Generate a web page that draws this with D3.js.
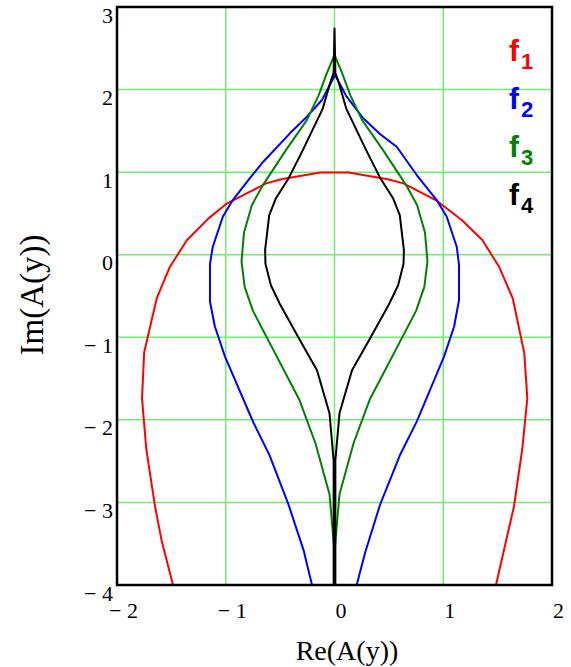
<!DOCTYPE html>
<html>
<head>
<meta charset="utf-8">
<script src="https://cdn.jsdelivr.net/npm/d3@7"></script>
<style>
  html, body { margin: 0; padding: 0; background: #fff; }
  svg { display: block; }
</style>
</head>
<body>
<svg id="chart" width="571" height="667"></svg>
<script>
// Traces of A(y) in the complex plane, one array pair per function
const re1 = [-1.485, -1.59, -1.65, -1.73, -1.77, -1.75, -1.635, -1.513, -1.356, -1.158, -0.99, -0.628, -0.49, -0.13,
             0.13, 0.49, 0.633, 0.94, 1.17, 1.359, 1.513, 1.639, 1.745, 1.773, 1.727, 1.65, 1.485];
const im1 = [-4.0, -3.46, -3.05, -2.36, -1.74, -1.18, -0.53, -0.145, 0.178, 0.44, 0.62, 0.864, 0.913, 0.995,
             0.995, 0.913, 0.864, 0.654, 0.42, 0.178, -0.145, -0.528, -1.19, -1.74, -2.35, -3.05, -4.0];

const re2 = [-0.207, -0.284, -0.422, -0.597, -0.75, -1.007, -1.1, -1.145, -1.145, -1.119, -1.027, -0.935, -0.78, -0.655, -0.41, -0.268, -0.115,
             0.005,
             0.112, 0.265, 0.41, 0.572, 0.756, 0.94, 1.032, 1.124, 1.145, 1.145, 1.1, 1.007, 0.756, 0.602, 0.418, 0.28, 0.204];
const im2 = [-4.0, -3.58, -3.03, -2.43, -2.02, -1.235, -0.87, -0.57, -0.11, 0.097, 0.46, 0.662, 0.925, 1.126, 1.47, 1.652, 1.874,
             2.177,
             1.914, 1.652, 1.47, 1.308, 0.965, 0.662, 0.46, 0.097, -0.125, -0.549, -0.87, -1.235, -2.022, -2.426, -3.031, -3.616, -4.0];

const re3 = [-0.004, -0.004, -0.046, -0.176, -0.322, -0.75, -0.826, -0.855, -0.832, -0.76, -0.66, -0.445, -0.254, -0.146, -0.07,
             0,
             0.07, 0.146, 0.254, 0.445, 0.66, 0.76, 0.832, 0.855, 0.826, 0.75, 0.322, 0.176, 0.046, 0.004, 0.004];
const im3 = [-4, -3.54, -2.9, -2.28, -1.76, -0.68, -0.39, -0.08, 0.27, 0.6, 0.84, 1.27, 1.63, 1.93, 2.2,
             2.42,
             2.2, 1.93, 1.63, 1.27, 0.84, 0.6, 0.27, -0.08, -0.39, -0.68, -1.76, -2.28, -2.9, -3.54, -4];

const re4 = [-0.008, -0.008, -0.046, -0.161, -0.32, -0.505, -0.585, -0.635, -0.638, -0.6, -0.54, -0.42, -0.29, -0.108, -0.038, -0.008,
             0,
             0.008, 0.038, 0.108, 0.29, 0.42, 0.54, 0.6, 0.638, 0.635, 0.585, 0.505, 0.32, 0.161, 0.046, 0.008, 0.008];
const im4 = [-4, -2.49, -1.92, -1.4, -1.03, -0.59, -0.37, -0.11, 0.06, 0.48, 0.68, 0.93, 1.27, 1.77, 2.09, 2.2,
             2.74,
             2.2, 2.09, 1.77, 1.27, 0.93, 0.68, 0.48, 0.06, -0.11, -0.37, -0.59, -1.03, -1.4, -1.92, -2.49, -4];

const seriesNames = ["1", "2", "3", "4"];
const seriesColors = ["#ff0000", "#0000ff", "#008000", "#000000"];

const xTicks = [-2, -1, 0, 1, 2];
const yTicks = [3, 2, 1, 0, -1, -2, -3, -4];
const xGrid = [-1, 0, 1];
const yGrid = [2, 1, 0, -1, -2, -3];

const xTitle = "Re(A(y))";
const yTitle = "Im(A(y))";

// ---- layout ----
const svg = d3.select("#chart");
const plotLeft = 117, plotRight = 552, plotTop = 7, plotBottom = 585;

const x = d3.scaleLinear().domain([-2, 2]).range([plotLeft, plotRight]);
const y = d3.scaleLinear().domain([-4, 3]).range([plotBottom, plotTop]);

const fmt = v => v < 0 ? "\u2212 " + Math.abs(v) : String(v);
const serif = "'Liberation Serif', 'Times New Roman', serif";

svg.append("rect").attr("width", 571).attr("height", 667).attr("fill", "#fff");

// grid
const grid = svg.append("g").attr("stroke", "#70ee70").attr("stroke-width", 1.5);
grid.selectAll("line.v").data(xGrid).join("line")
  .attr("class", "v")
  .attr("x1", d => x(d)).attr("x2", d => x(d))
  .attr("y1", plotTop).attr("y2", plotBottom);
grid.selectAll("line.h").data(yGrid).join("line")
  .attr("class", "h")
  .attr("y1", d => y(d)).attr("y2", d => y(d))
  .attr("x1", plotLeft).attr("x2", plotRight);

// curves
svg.append("clipPath").attr("id", "plotclip")
  .append("rect").attr("x", plotLeft).attr("y", plotTop)
  .attr("width", plotRight - plotLeft).attr("height", plotBottom - plotTop);

const traces = [[re1, im1], [re2, im2], [re3, im3], [re4, im4]];
const line = d3.line().x(d => x(d[0])).y(d => y(d[1]));

svg.append("g").attr("clip-path", "url(#plotclip)")
  .selectAll("path").data(traces).join("path")
  .attr("d", ([re, im]) => line(re.map((r, i) => [r, im[i]])))
  .attr("fill", "none")
  .attr("stroke", (d, i) => seriesColors[i])
  .attr("stroke-width", 2)
  .attr("stroke-linejoin", "round");

// frame
svg.append("rect")
  .attr("x", plotLeft).attr("y", plotTop)
  .attr("width", plotRight - plotLeft).attr("height", plotBottom - plotTop)
  .attr("fill", "none").attr("stroke", "#000").attr("stroke-width", 2.5);

// axes (labels only, no tick marks)
function styleTicks(g) {
  g.select(".domain").remove();
  g.attr("font-family", serif).attr("font-size", 22);
  g.selectAll(".tick text")
    .style("font-family", serif)
    .style("font-size", "22px")
    .attr("fill", "#000");
}

const xAxis = svg.append("g").attr("transform", `translate(0,${plotBottom})`)
  .call(d3.axisBottom(x).tickValues(xTicks).tickSize(0).tickFormat(fmt))
  .call(styleTicks);
xAxis.selectAll(".tick text")
  .attr("x", 6).attr("y", 33).attr("dy", null);

const yAxis = svg.append("g").attr("transform", `translate(${plotLeft},0)`)
  .call(d3.axisLeft(y).tickValues(yTicks).tickSize(0).tickFormat(fmt))
  .call(styleTicks);
yAxis.selectAll(".tick text")
  .attr("x", -4).attr("y", 15).attr("dy", null);

// axis titles
svg.append("text")
  .attr("x", 347).attr("y", 660)
  .attr("text-anchor", "middle")
  .attr("font-family", serif).attr("font-size", 28)
  .text(xTitle);

svg.append("text")
  .attr("transform", "translate(43,295) rotate(-90)")
  .attr("text-anchor", "middle")
  .attr("font-family", serif).attr("font-size", 33)
  .text(yTitle);

// legend
const legend = svg.append("g")
  .attr("font-family", "'Liberation Sans', Arial, sans-serif")
  .attr("font-weight", "bold");
seriesNames.forEach((n, i) => {
  const t = legend.append("text")
    .attr("x", 509).attr("y", 61 + i * 48)
    .attr("fill", seriesColors[i])
    .attr("font-size", 30);
  t.append("tspan").text("f");
  t.append("tspan").attr("dx", 2).attr("dy", 8).attr("font-size", 22).text(n);
});
</script>
</body>
</html>
